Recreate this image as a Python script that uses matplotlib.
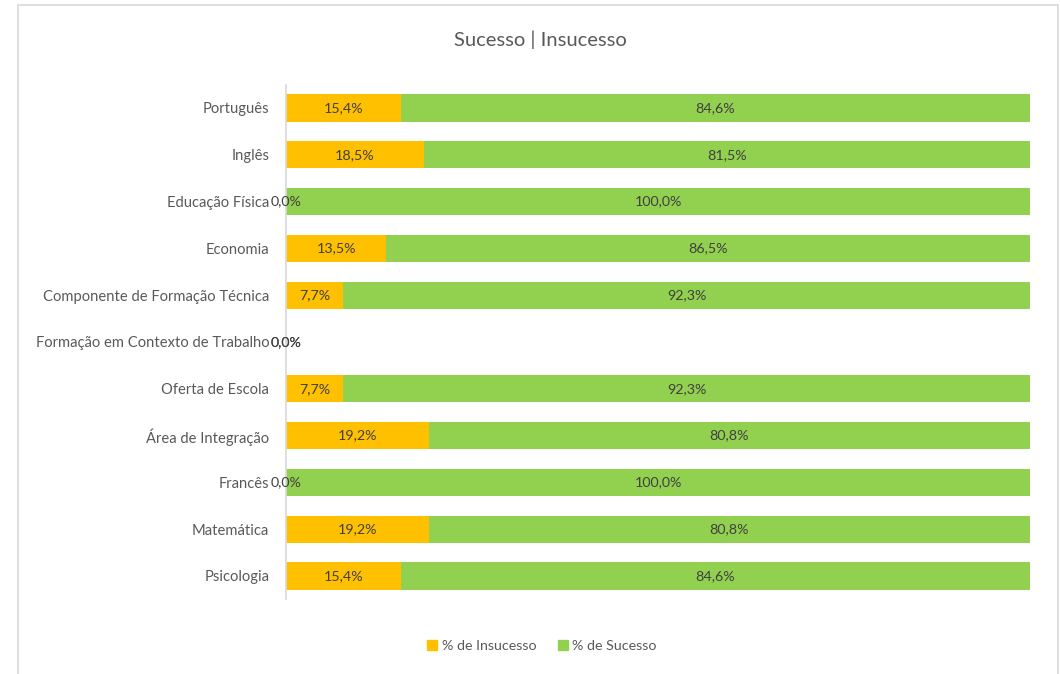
import matplotlib
matplotlib.use("Agg")
import matplotlib.pyplot as plt
from matplotlib.patches import Rectangle, Patch
import numpy as np

categories = ["Português", "Inglês", "Educação Física", "Economia",
              "Componente de Formação Técnica", "Formação em Contexto de Trabalho",
              "Oferta de Escola", "Área de Integração", "Francês", "Matemática", "Psicologia"]
insucesso = [15.4, 18.5, 0.0, 13.5, 7.7, 0.0, 7.7, 19.2, 0.0, 19.2, 15.4]
sucesso = [84.6, 81.5, 100.0, 86.5, 92.3, 0.0, 92.3, 80.8, 100.0, 80.8, 84.6]

plt.rcParams['font.family'] = ['Lato', 'DejaVu Sans']
W, H = 1060, 674
fig = plt.figure(figsize=(W/100, H/100), dpi=100)
fig.patches.append(Rectangle((18/W, -0.05), (1058-18)/W, 1.05-5/H, transform=fig.transFigure,
                             fill=False, edgecolor='#D9D9D9', linewidth=1.2))

ax = fig.add_axes([286/W, 1-599.4/H, (1030-286)/W, (599.4-84.6)/H])
y = np.arange(len(categories))
bh = 0.58
c_ins, c_suc = '#FFC000', '#92D050'
ax.barh(y, insucesso, height=bh, color=c_ins, label='% de Insucesso')
ax.barh(y, sucesso, left=insucesso, height=bh, color=c_suc, label='% de Sucesso')

def fmt(v):
    return f"{v:.1f}%".replace('.', ',')

for i in range(len(categories)):
    a, b = insucesso[i], sucesso[i]
    ax.text(a/2, i, fmt(a), ha='center', va='center', fontsize=10.3, color='#404040')
    if b > 0 or a == 0:
        ax.text(a + b/2, i, fmt(b), ha='center', va='center', fontsize=10.3, color='#404040')

ax.set_xlim(0, 100)
ax.set_ylim(len(categories)-0.5, -0.5)
ax.set_yticks(y)
ax.set_yticklabels(categories, fontsize=10.6, color='#595959')
ax.tick_params(axis='y', length=0, pad=12)
ax.set_xticks([])
for s in ['top', 'right', 'bottom']:
    ax.spines[s].set_visible(False)
ax.spines['left'].set_color('#D9D9D9')
ax.spines['left'].set_linewidth(1.2)

fig.text(540/W, 1-40/H, "Sucesso | Insucesso", ha='center', va='center', fontsize=14.5, color='#595959')

handles = [Patch(color=c_ins), Patch(color=c_suc)]
fig.legend(handles, ['% de Insucesso', '% de Sucesso'], loc='center', bbox_to_anchor=(542/W, 1-646/H),
           ncol=2, frameon=False, fontsize=10.3, handlelength=0.7, handleheight=0.7,
           handletextpad=0.3, columnspacing=1.5, labelcolor='#595959')

fig.savefig("out.png", dpi=100)
